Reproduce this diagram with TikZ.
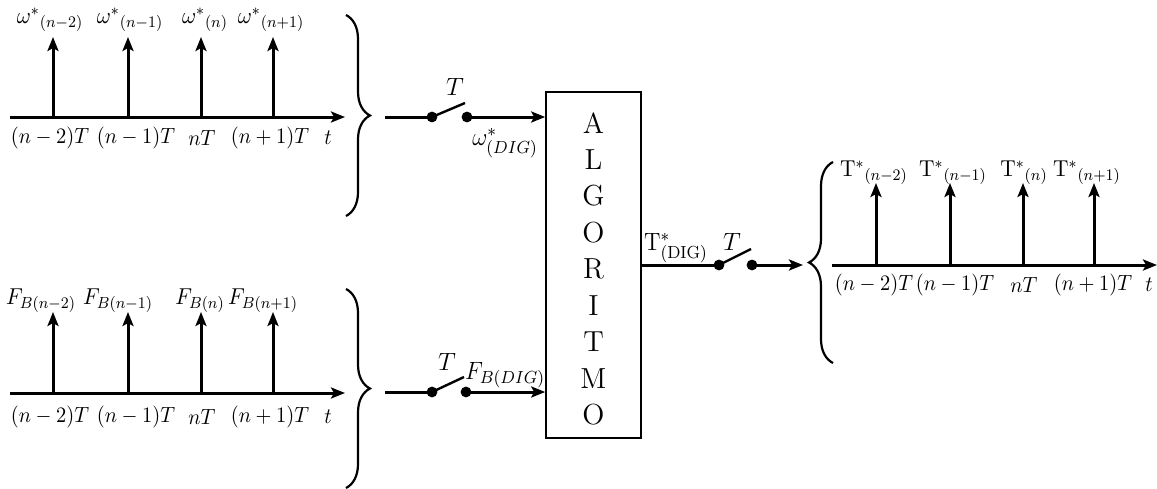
\documentclass[tikz,border=0pt]{standalone}
\usepackage{fix-cm}
\usepackage{graphicx}
\usetikzlibrary{arrows.meta,decorations.pathreplacing}
\newcommand{\nx}[1]{\scalebox{0.93}[1]{$#1$}}
\begin{document}
\begin{tikzpicture}[x=0.5pt,y=-0.5pt,
  font=\fontsize{11}{13}\selectfont,
  sig/.style={line width=1.5pt,-{Stealth[length=7pt,width=5.5pt,inset=1.5pt]}},
  wire/.style={line width=1.5pt},
  dotc/.style={circle,fill=black,inner sep=0pt,minimum size=5.4pt},
  brc/.style={line width=1.1pt,decorate,decoration={brace,amplitude=12pt}},
  lbl/.style={inner sep=0pt},
  big/.style={inner sep=0pt,font=\fontsize{11.5}{13}\selectfont},
  tee/.style={inner sep=0pt,font=\fontsize{12.5}{14}\selectfont},
  lett/.style={inner sep=0pt,font=\fontsize{14.5}{16}\selectfont}]
\useasboundingbox (0,0) rectangle (1157,488);

% ---------- top input signal ----------
\coordinate (a1s) at (10,117); \coordinate (a1e) at (345,117);
\draw[sig] (a1s) -- (a1e);
\foreach \x/\n in {53/1,128/2,201/3,273/4}{
  \coordinate (ta\n) at (\x,117); \coordinate (tb\n) at (\x,37);
  \draw[sig] (ta\n) -- (tb\n);}
\node[big] (w1) at (50,20) {\nx{\omega^{*}{}_{(n-2)}}};
\node[big] (w2) at (130,20) {\nx{\omega^{*}{}_{(n-1)}}};
\node[big] (w3) at (205,20) {\nx{\omega^{*}{}_{(n)}}};
\node[big] (w4) at (271,20) {\nx{\omega^{*}{}_{(n+1)}}};
\node[lbl] (k1) at (50,138) {\nx{(n-2)T}};
\node[lbl] (k2) at (136,138) {\nx{(n-1)T}};
\node[lbl] (k3) at (202,138) {\nx{nT}};
\node[lbl] (k4) at (270,138) {\nx{(n+1)T}};
\node[lbl] (k5) at (328,138) {\nx{t}};
\coordinate (b1t) at (346,15); \coordinate (b1b) at (346,216);
\draw[brc] (b1t) -- (b1b);

% ---------- bottom input signal ----------
\coordinate (a2s) at (10,393); \coordinate (a2e) at (345,393);
\draw[sig] (a2s) -- (a2e);
\foreach \x/\n in {53/1,128/2,201/3,273/4}{
  \coordinate (sa\n) at (\x,393); \coordinate (sb\n) at (\x,312);
  \draw[sig] (sa\n) -- (sb\n);}
\node[big] (f1) at (41,301) {\nx{F_{B(n-2)}}};
\node[big] (f2) at (118,301) {\nx{F_{B(n-1)}}};
\node[big] (f3) at (200,301) {\nx{F_{B(n)}}};
\node[big] (f4) at (263,301) {\nx{F_{B(n+1)}}};
\node[lbl] (m1) at (50,417) {\nx{(n-2)T}};
\node[lbl] (m2) at (136,417) {\nx{(n-1)T}};
\node[lbl] (m3) at (202,417) {\nx{nT}};
\node[lbl] (m4) at (270,417) {\nx{(n+1)T}};
\node[lbl] (m5) at (328,417) {\nx{t}};
\coordinate (b2t) at (346,289); \coordinate (b2b) at (346,488);
\draw[brc] (b2t) -- (b2b);

% ---------- algorithm box ----------
\node[draw,line width=0.8pt,minimum width=47.5pt,minimum height=173pt,inner sep=0pt] (alg) at (593.5,265) {};
\foreach \c [count=\i from 0] in {A,L,G,O,R,I,T,M,O}{
  \node[lett] (L\i) at (593.5,123+36.5*\i) {\c};}
\draw[line width=1.3pt] (546,92) -- (546,153);
\draw[line width=1.3pt] (546,353) -- (546,388);
\draw[line width=1.3pt] (641,229) -- (641,264);

% ---------- switch 1 ----------
\coordinate (i1) at (385,117);
\node[dotc] (d11) at (432,117) {};
\node[dotc] (d12) at (467,117) {};
\coordinate (bl1) at (465,103);
\draw[wire] (i1) -- (d11.center);
\draw[line width=1.2pt] (d11.center) -- (bl1);
\draw[sig] (d12.center) -- (alg.west |- d12);
\node[tee] (T1) at (455,87) {$T$};
\node[tee] (wd) at (505,143) {\nx{\omega^{*}_{(DIG)}}};

% ---------- switch 2 ----------
\coordinate (i2) at (385,392);
\node[dotc] (d21) at (432,392) {};
\node[dotc] (d22) at (466,392) {};
\coordinate (bl2) at (464,377);
\draw[wire] (i2) -- (d21.center);
\draw[line width=1.2pt] (d21.center) -- (bl2);
\draw[sig] (d22.center) -- (alg.west |- d22);
\node[tee] (T2) at (447,362) {$T$};
\node[tee] (fd) at (505,375) {\nx{F_{B(DIG)}}};

% ---------- output switch ----------
\node[dotc] (d31) at (719,265) {};
\node[dotc] (d32) at (752,265) {};
\coordinate (bl3) at (751,249);
\coordinate (o3) at (803,265);
\draw[wire] (alg.east) -- (d31.center);
\draw[line width=1.2pt] (d31.center) -- (bl3);
\draw[sig] (d32.center) -- (o3);
\node[tee] (T3) at (732,242) {$T$};
\node[tee] (td) at (676,248) {\nx{\mathrm{T}^{*}_{(\mathrm{DIG})}}};

% ---------- output signal ----------
\coordinate (b3b) at (833,363); \coordinate (b3t) at (833,162);
\draw[brc] (b3b) -- (b3t);
\coordinate (a3s) at (832,265); \coordinate (a3e) at (1157,265);
\draw[sig] (a3s) -- (a3e);
\foreach \x/\n in {876/1,950/2,1023/3,1094/4}{
  \coordinate (ua\n) at (\x,265); \coordinate (ub\n) at (\x,183);
  \draw[sig] (ua\n) -- (ub\n);}
\node[big] (o1) at (874,173) {\nx{\mathrm{T}^{*}{}_{(n-2)}}};
\node[big] (o2) at (953,173) {\nx{\mathrm{T}^{*}{}_{(n-1)}}};
\node[big] (o3l) at (1024,173) {\nx{\mathrm{T}^{*}{}_{(n)}}};
\node[big] (o4) at (1087,173) {\nx{\mathrm{T}^{*}{}_{(n+1)}}};
\node[lbl] (n1) at (874,285) {\nx{(n-2)T}};
\node[lbl] (n2) at (955,285) {\nx{(n-1)T}};
\node[lbl] (n3) at (1024,285) {\nx{nT}};
\node[lbl] (n4) at (1093,285) {\nx{(n+1)T}};
\node[lbl] (n5) at (1149,285) {\nx{t}};
\end{tikzpicture}
\end{document}
